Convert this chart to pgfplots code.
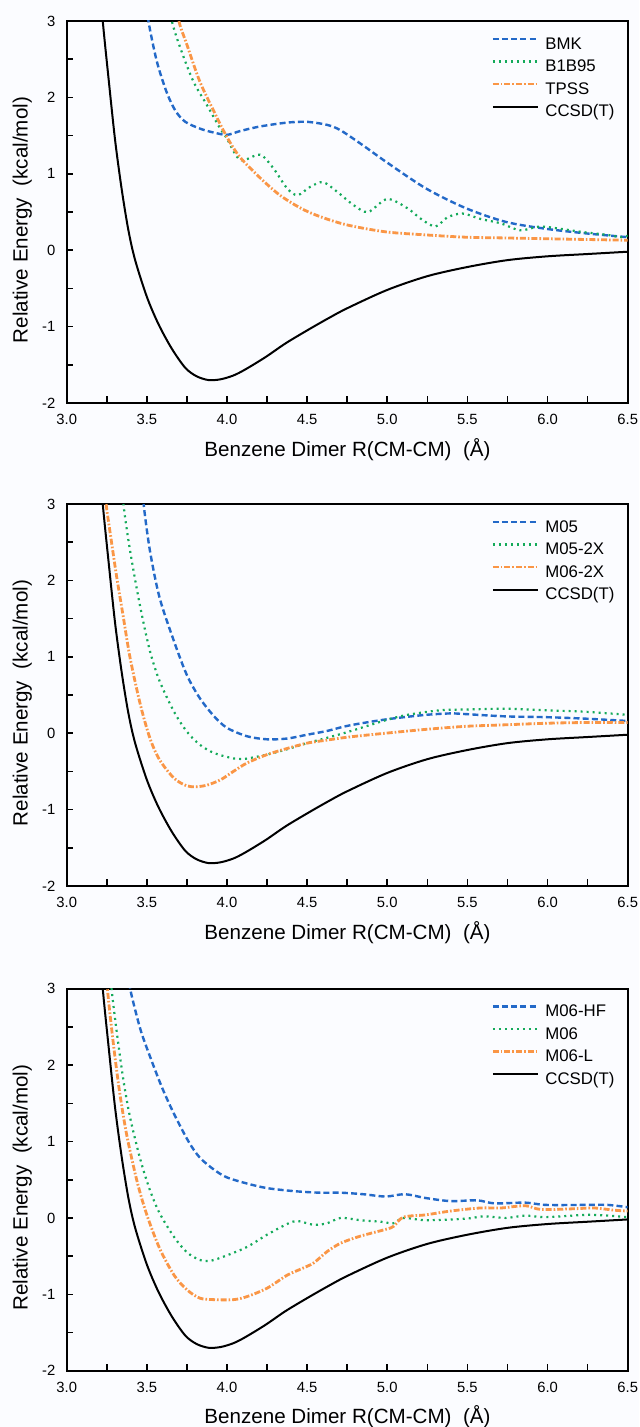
\documentclass[border=0pt]{standalone}
\usepackage{fontspec}
\setmainfont{Liberation Sans}
\usepackage{pgfplots}
\pgfplotsset{compat=1.18}
\definecolor{cblue}{RGB}{35,105,200}
\definecolor{cgreen}{RGB}{20,170,90}
\definecolor{corange}{RGB}{250,150,70}
\definecolor{bg}{RGB}{251,252,255}
\pgfplotsset{
  panel/.style={
    scale only axis, width=280.5pt, height=191pt,
    xmin=3, xmax=6.5, ymin=-2, ymax=3,
    axis line style={line width=0.9pt},
    xtick={3,3.5,4,4.5,5,5.5,6,6.5},
    xticklabels={3.0,3.5,4.0,4.5,5.0,5.5,6.0,6.5},
    minor xtick={3.25,3.75,4.25,4.75,5.25,5.75,6.25},
    ytick={-2,-1,0,1,2,3},
    yticklabels={-2,-1,0,1,2,3},
    minor ytick={-1.5,-0.5,0.5,1.5,2.5},
    xtick pos=bottom, ytick pos=left, tick align=inside,
    major tick length=3.3pt, minor tick length=3.3pt,
    every tick/.style={black, line width=0.8pt},
    tick label style={font=\fontsize{7.4}{8}\selectfont},
    xticklabel style={yshift=-2.3pt},
    yticklabel style={xshift=-2.2pt},
    label style={font=\fontsize{10.3}{12}\selectfont},
    xlabel={Benzene Dimer R(CM-CM)\ \ (Å)},
    ylabel={Relative Energy\ \ (kcal/mol)},
    xlabel style={at={(axis description cs:0.5005,-0.121)}, anchor=center},
    ylabel style={at={(axis description cs:-0.0793,0.479)}, anchor=center},
    legend cell align=left,
    legend style={draw=none, fill=none, inner sep=0pt, outer sep=0pt,
      at={(axis description cs:0.757,0.959)}, anchor=north west,
      font=\fontsize{8.4}{9}\selectfont, row sep=3.3pt, column sep=0pt,
      nodes={inner sep=0pt, outer sep=0pt, text height=6.2pt, text depth=1.8pt}},
    legend image code/.code={\draw[#1] (0pt,2.9pt) -- (22.5pt,2.9pt); \path (25.6pt,0pt);},
    every axis plot/.append style={smooth, tension=0.5},
  },
  sblue/.style={cblue, line width=1.2pt, dash pattern=on 3pt off 1.6pt},
  sgreen/.style={cgreen, line width=1.1pt, dash pattern=on 1pt off 2pt},
  sorange/.style={corange, line width=1.4pt, dash pattern=on 3pt off 1pt on 0.8pt off 1pt},
  sblack/.style={black, line width=1pt, solid},
}
\pgfplotstableread{
x y
3.20 3.7
3.225 3.0
3.26 2.27
3.302 1.44
3.344 0.785
3.385 0.26
3.427 -0.13
3.5 -0.61
3.573 -0.97
3.656 -1.29
3.74 -1.54
3.81 -1.65
3.885 -1.70
3.96 -1.69
4.04 -1.64
4.115 -1.56
4.24 -1.40
4.365 -1.22
4.5 -1.05
4.625 -0.90
4.75 -0.76
5.0 -0.52
5.25 -0.34
5.5 -0.22
5.75 -0.13
6.0 -0.08
6.25 -0.05
6.5 -0.02
}\ccsdt
\begin{document}
\begin{tikzpicture}
\path[use as bounding box, fill=bg] (-33.35pt,10.5pt) rectangle (286.15pt,-703pt);
% ---------------- panel 1
\begin{axis}[panel, at={(0pt,0pt)}, anchor=north west]
\addplot[sblue] coordinates {(3.50,3.3) (3.51,3.0) (3.5625,2.47) (3.625,2.06) (3.68,1.82) (3.74,1.68) (3.833,1.59) (3.917,1.54) (4.0,1.51) (4.083,1.56) (4.208,1.62) (4.375,1.67) (4.5,1.68) (4.625,1.64) (4.708,1.57) (4.85,1.37) (4.99,1.16) (5.24,0.81) (5.49,0.55) (5.74,0.37) (5.99,0.28) (6.24,0.22) (6.5,0.17)};
\addlegendentry{BMK}
\addplot[sgreen] coordinates {(3.64,3.3) (3.656,3.0) (3.71,2.64) (3.79,2.21) (3.875,1.90) (3.95,1.62) (4.0,1.46) (4.083,1.18) (4.206,1.25) (4.29,1.07) (4.375,0.81) (4.44,0.72) (4.52,0.83) (4.60,0.89) (4.69,0.76) (4.79,0.59) (4.88,0.50) (5.0,0.67) (5.125,0.55) (5.21,0.41) (5.30,0.31) (5.375,0.43) (5.47,0.48) (5.58,0.41) (5.71,0.35) (5.83,0.26) (5.95,0.31) (6.08,0.28) (6.21,0.24) (6.375,0.20) (6.46,0.17) (6.5,0.19)};
\addlegendentry{B1B95}
\addplot[sorange] coordinates {(3.69,3.3) (3.70,3.0) (3.75,2.69) (3.83,2.21) (3.92,1.81) (4.0,1.48) (4.08,1.22) (4.21,0.94) (4.33,0.72) (4.46,0.55) (4.58,0.44) (4.75,0.33) (4.99,0.24) (5.24,0.20) (5.49,0.17) (5.74,0.16) (5.99,0.15) (6.5,0.13)};
\addlegendentry{TPSS}
\addplot[sblack] table {\ccsdt};
\addlegendentry{CCSD(T)}
\end{axis}
% ---------------- panel 2
\begin{axis}[panel, at={(0pt,-241.5pt)}, anchor=north west]
\addplot[sblue] coordinates {(3.47,3.4) (3.48,3.0) (3.52,2.38) (3.58,1.77) (3.67,1.20) (3.75,0.76) (3.83,0.46) (3.92,0.22) (4.0,0.07) (4.125,-0.04) (4.25,-0.08) (4.375,-0.07) (4.5,-0.02) (4.625,0.03) (4.76,0.10) (4.99,0.18) (5.24,0.24) (5.41,0.26) (5.49,0.25) (5.74,0.22) (5.99,0.21) (6.24,0.19) (6.5,0.16)};
\addlegendentry{M05}
\addplot[sgreen] coordinates {(3.345,3.4) (3.354,3.0) (3.396,2.38) (3.46,1.64) (3.52,1.07) (3.58,0.68) (3.67,0.28) (3.75,0.02) (3.83,-0.15) (3.92,-0.26) (4.04,-0.33) (4.1,-0.34) (4.25,-0.28) (4.375,-0.21) (4.5,-0.13) (4.625,-0.06) (4.76,0.02) (4.99,0.17) (5.125,0.24) (5.33,0.30) (5.49,0.31) (5.74,0.32) (5.99,0.30) (6.24,0.28) (6.5,0.24)};
\addlegendentry{M05-2X}
\addplot[sorange] coordinates {(3.24,3.3) (3.246,3.0) (3.27,2.64) (3.31,2.07) (3.354,1.51) (3.396,0.98) (3.46,0.37) (3.52,-0.07) (3.58,-0.35) (3.67,-0.59) (3.75,-0.69) (3.81,-0.70) (3.875,-0.68) (3.96,-0.61) (4.04,-0.50) (4.125,-0.39) (4.25,-0.28) (4.375,-0.20) (4.5,-0.13) (4.625,-0.09) (4.76,-0.05) (4.99,0.0) (5.24,0.05) (5.49,0.09) (5.74,0.11) (5.99,0.13) (6.24,0.14) (6.5,0.14)};
\addlegendentry{M06-2X}
\addplot[sblack] table {\ccsdt};
\addlegendentry{CCSD(T)}
\end{axis}
% ---------------- panel 3
\begin{axis}[panel, at={(0pt,-483.85pt)}, anchor=north west]
\addplot[sblue] coordinates {(3.385,3.2) (3.396,3.0) (3.43,2.7) (3.47,2.4) (3.54,2.0) (3.6,1.68) (3.67,1.36) (3.76,1.0) (3.83,0.79) (3.92,0.63) (4.0,0.53) (4.125,0.45) (4.25,0.39) (4.42,0.35) (4.58,0.33) (4.71,0.33) (4.85,0.31) (4.99,0.28) (5.11,0.31) (5.24,0.26) (5.395,0.22) (5.56,0.23) (5.67,0.19) (5.86,0.20) (5.99,0.17) (6.24,0.17) (6.375,0.17) (6.5,0.14)};
\addlegendentry{M06-HF}
\addplot[sgreen] coordinates {(3.27,3.4) (3.28,3.0) (3.3125,2.43) (3.354,1.80) (3.396,1.31) (3.46,0.76) (3.52,0.36) (3.58,0.06) (3.67,-0.25) (3.75,-0.45) (3.83,-0.55) (3.90,-0.56) (4.0,-0.49) (4.125,-0.38) (4.25,-0.22) (4.375,-0.08) (4.44,-0.04) (4.54,-0.09) (4.625,-0.07) (4.71,0.0) (4.83,-0.03) (4.96,-0.05) (5.04,-0.07) (5.1,0.0) (5.24,-0.03) (5.49,-0.01) (5.6,0.02) (5.74,0.0) (5.86,0.03) (5.99,0.01) (6.24,0.04) (6.375,0.03) (6.5,0.01)};
\addlegendentry{M06}
\addplot[sorange] coordinates {(3.245,3.4) (3.254,3.0) (3.29,2.30) (3.33,1.65) (3.375,1.08) (3.44,0.47) (3.5,0.04) (3.58,-0.40) (3.67,-0.75) (3.75,-0.94) (3.83,-1.05) (3.92,-1.07) (4.04,-1.07) (4.125,-1.03) (4.25,-0.92) (4.375,-0.75) (4.46,-0.67) (4.54,-0.59) (4.625,-0.44) (4.71,-0.33) (4.83,-0.24) (4.99,-0.15) (5.04,-0.11) (5.1,0.01) (5.24,0.04) (5.395,0.09) (5.58,0.13) (5.71,0.13) (5.86,0.16) (5.96,0.11) (6.17,0.12) (6.29,0.13) (6.42,0.10) (6.5,0.09)};
\addlegendentry{M06-L}
\addplot[sblack] table {\ccsdt};
\addlegendentry{CCSD(T)}
\end{axis}
\end{tikzpicture}
\end{document}
